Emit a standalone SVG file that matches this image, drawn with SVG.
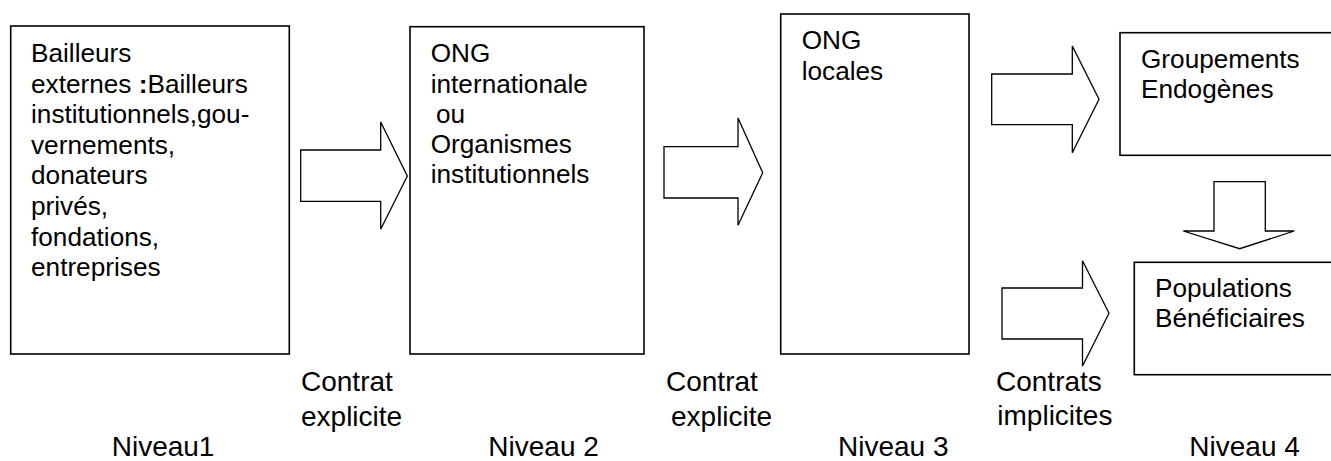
<svg xmlns="http://www.w3.org/2000/svg" width="1331" height="461" viewBox="0 0 1331 461">
<style>
.box{fill:#fff;stroke:#000;stroke-width:1.6}
.arr{fill:#fff;stroke:#000;stroke-width:1.3;stroke-linejoin:miter}
.t{font-family:"Liberation Sans",Arial,sans-serif;font-size:26.2px;fill:#000}
.lbl{font-family:"Liberation Sans",Arial,sans-serif;font-size:28px;fill:#000}
</style>
<rect width="1331" height="461" fill="#fff"/>
<g id="connectors">
<polygon class="arr" points="300.7,150 380.7,150 380.7,122 407.3,176 380.7,229.3 380.7,201.3 300.7,201.3"/>
<polygon class="arr" points="664,146.7 738,146.7 738,118 762.7,172.7 738,225.3 738,198 664,198"/>
<polygon class="arr" points="991.7,74 1072.3,74 1072.3,46 1099,99.3 1072.3,152.7 1072.3,124.7 991.7,124.7"/>
<polygon class="arr" points="1002,288 1082.5,288 1082.5,260.7 1109,313.3 1082.5,366 1082.5,339 1002,339"/>
<polygon class="arr" points="1214,181.7 1265.3,181.7 1265.3,231 1294.3,231 1239.7,248.7 1183.3,231 1214,231"/>
</g>
<g id="node-bailleurs">
<rect class="box" x="10.7" y="26" width="278.6" height="328"/>
<text class="t" x="31"><tspan x="31" y="62.3">Bailleurs</tspan><tspan x="31" y="92.7">externes <tspan font-weight="bold">:</tspan>Bailleurs</tspan><tspan x="31" y="123.3">institutionnels,gou-</tspan><tspan x="31" y="153.8">vernements,</tspan><tspan x="31" y="184.4">donateurs</tspan><tspan x="31" y="215">privés,</tspan><tspan x="31" y="245.6">fondations,</tspan><tspan x="31" y="276.2">entreprises</tspan></text>
</g>
<g id="node-ong-internationale">
<rect class="box" x="410" y="26.7" width="234" height="327.3"/>
<text class="t"><tspan x="430.7" y="62.3">ONG</tspan><tspan x="430.7" y="92.5">internationale</tspan><tspan x="436" y="122.8">ou</tspan><tspan x="430.7" y="153">Organismes</tspan><tspan x="430.7" y="183.3">institutionnels</tspan></text>
</g>
<g id="node-ong-locales">
<rect class="box" x="780.7" y="14" width="188.3" height="340"/>
<text class="t"><tspan x="801.7" y="49">ONG</tspan><tspan x="801.7" y="79.5">locales</tspan></text>
</g>
<g id="node-groupements">
<rect class="box" x="1120" y="32.7" width="230" height="122.6"/>
<text class="t"><tspan x="1141" y="67.8">Groupements</tspan><tspan x="1141" y="97.7">Endogènes</tspan></text>
</g>
<g id="node-populations">
<rect class="box" x="1134.3" y="262.3" width="220" height="112.4"/>
<text class="t"><tspan x="1155" y="296.7">Populations</tspan><tspan x="1155" y="327">Bénéficiaires</tspan></text>
</g>
<g id="labels">
<text class="lbl"><tspan x="301" y="391">Contrat</tspan><tspan x="301" y="425.5">explicite</tspan></text>
<text class="lbl"><tspan x="666" y="391">Contrat</tspan><tspan x="671" y="425.5">explicite</tspan></text>
<text class="lbl"><tspan x="996" y="390.5">Contrats</tspan><tspan x="997.3" y="425">implicites</tspan></text>
<text class="lbl" x="111.7" y="456">Niveau1</text>
<text class="lbl" x="488.3" y="456">Niveau 2</text>
<text class="lbl" x="838" y="456">Niveau 3</text>
<text class="lbl" x="1189.3" y="456">Niveau 4</text>
</g>
</svg>
